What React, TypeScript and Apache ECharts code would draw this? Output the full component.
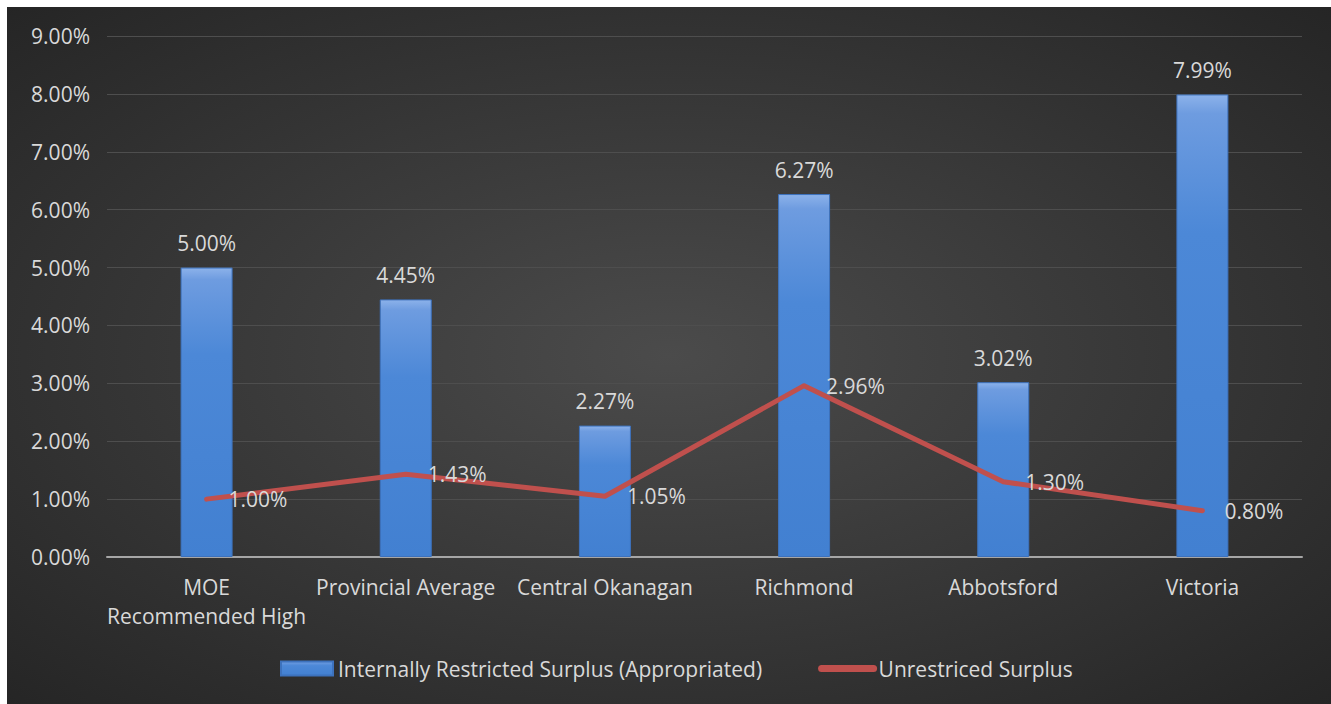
import React, { useEffect, useRef } from "react";
import * as echarts from "echarts";

const categories = [
  "MOE\nRecommended High",
  "Provincial Average",
  "Central Okanagan",
  "Richmond",
  "Abbotsford",
  "Victoria",
];
const restrictedSurplus = [5.0, 4.45, 2.27, 6.27, 3.02, 7.99];
const unrestrictedSurplus = [1.0, 1.43, 1.05, 2.96, 1.3, 0.8];
const seriesNames = ["Internally Restricted Surplus (Appropriated)", "Unrestriced Surplus"];

const FONT = "'Open Sans', sans-serif";
const TEXT = "#d9d9d9";
const RED = "#c0504d";
const SIZE = 21;
const pct = (v: number) => Number(v).toFixed(2) + "%";

export default function App() {
  const ref = useRef<HTMLDivElement>(null);

  useEffect(() => {
    if (!ref.current) return;
    const chart = echarts.init(ref.current, null, { renderer: "svg" });
    chart.setOption({
      animation: false,
      backgroundColor: {
        type: "radial",
        x: 0.5,
        y: 0.5,
        r: 0.75,
        colorStops: [
          { offset: 0, color: "#4b4b4b" },
          { offset: 1, color: "#232323" },
        ],
      },
      textStyle: { fontFamily: FONT },
      grid: { left: 100, right: 29, top: 29, bottom: 147 },
      legend: {
        bottom: 20,
        left: 268,
        itemWidth: 52,
        itemHeight: 14,
        itemGap: 56,
        textStyle: { color: TEXT, fontSize: SIZE, fontFamily: FONT },
        data: [
          { name: seriesNames[0], icon: "rect" },
          {
            name: seriesNames[1],
            itemStyle: { opacity: 0 },
            lineStyle: { width: 7, cap: "round" },
          },
        ],
      },
      xAxis: {
        type: "category",
        data: categories,
        axisTick: { show: false },
        axisLine: { lineStyle: { color: "#a6a6a6", width: 2 } },
        axisLabel: {
          color: TEXT,
          fontSize: SIZE,
          fontFamily: FONT,
          margin: 15,
          lineHeight: 29,
          interval: 0,
        },
      },
      yAxis: {
        type: "value",
        min: 0,
        max: 9,
        interval: 1,
        axisLine: { show: false },
        axisTick: { show: false },
        splitLine: { lineStyle: { color: "#4e4e4e", width: 1 } },
        axisLabel: {
          color: TEXT,
          fontSize: SIZE,
          fontFamily: FONT,
          margin: 17,
          formatter: (v: number) => pct(v),
        },
      },
      series: [
        {
          name: seriesNames[0],
          type: "bar",
          data: restrictedSurplus,
          barWidth: 52,
          itemStyle: {
            color: {
              type: "linear",
              x: 0,
              y: 0,
              x2: 0,
              y2: 1,
              colorStops: [
                { offset: 0, color: "#8cb2ea" },
                { offset: 0.04, color: "#6e9ce0" },
                { offset: 0.3, color: "#4c88d7" },
                { offset: 1, color: "#4280d1" },
              ],
            },
            borderColor: "#3d72bd",
            borderWidth: 1,
          },
          label: {
            show: true,
            position: "top",
            distance: 14,
            color: TEXT,
            fontSize: SIZE,
            fontFamily: FONT,
            formatter: (p: any) => pct(p.value),
          },
        },
        {
          name: seriesNames[1],
          type: "line",
          data: unrestrictedSurplus,
          symbol: "none",
          lineStyle: { color: RED, width: 5, cap: "round", join: "round" },
          itemStyle: { color: RED },
          z: 3,
        },
        {
          // value labels for the line, placed to the right of each point
          type: "scatter",
          data: unrestrictedSurplus,
          symbolSize: 0,
          silent: true,
          z: 4,
          itemStyle: { opacity: 1, color: RED },
          label: {
            show: true,
            position: "right",
            distance: 22,
            color: TEXT,
            opacity: 1,
            fontSize: SIZE,
            fontFamily: FONT,
            formatter: (p: any) => pct(p.value),
          },
        },
      ],
    });
    return () => chart.dispose();
  }, []);

  return (
    <div style={{ position: "fixed", left: 0, top: 0, width: 1331, height: 704, background: "#ffffff" }}>
      <div ref={ref} style={{ position: "absolute", left: 7, top: 7, width: 1324, height: 697 }} />
    </div>
  );
}
